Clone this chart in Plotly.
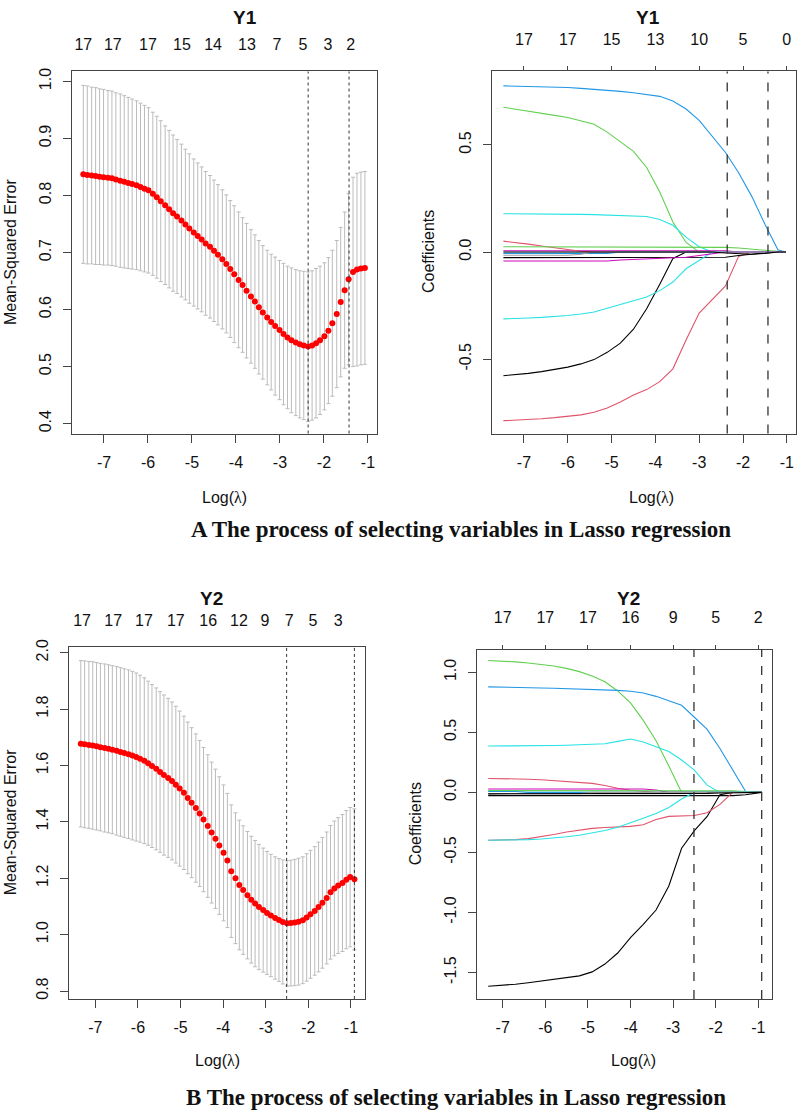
import plotly.graph_objects as go

W, H = 797, 1111
FONT = "Liberation Sans, Arial, sans-serif"
SERIF = "Liberation Serif, Times New Roman, serif"
# R's default palette, recycled over the 17 variables like glmnet does
R_PALETTE = ["#000000", "#DF536B", "#61D04F", "#2297E6",
             "#28E2E5", "#CD0BBC", "#F5C710", "#9E9E9E"]

# ---------------- Y1 : cross-validation curve ----------------
Y1_LOGLAM = [-7.47, -7.38, -7.28, -7.19, -7.10, -7.01, -6.91, -6.82, -6.73, -6.63,
             -6.54, -6.45, -6.36, -6.26, -6.17, -6.08, -5.99, -5.89, -5.80, -5.71,
             -5.61, -5.52, -5.43, -5.34, -5.24, -5.15, -5.06, -4.96, -4.87, -4.78,
             -4.69, -4.59, -4.50, -4.41, -4.31, -4.22, -4.13, -4.04, -3.94, -3.85,
             -3.76, -3.66, -3.57, -3.48, -3.39, -3.29, -3.20, -3.11, -3.01, -2.92,
             -2.83, -2.74, -2.64, -2.55, -2.46, -2.36, -2.27, -2.18, -2.09, -1.99,
             -1.90, -1.81, -1.71, -1.62, -1.53, -1.44, -1.34, -1.25, -1.16, -1.07]
Y1_MSE = [0.837, 0.836, 0.835, 0.834, 0.833, 0.832, 0.831, 0.830, 0.828, 0.826,
          0.824, 0.822, 0.820, 0.818, 0.815, 0.812, 0.809, 0.803, 0.797, 0.790,
          0.783, 0.776, 0.769, 0.763, 0.756, 0.749, 0.742, 0.735, 0.729, 0.723,
          0.716, 0.710, 0.703, 0.696, 0.688, 0.680, 0.671, 0.662, 0.652, 0.643,
          0.633, 0.623, 0.614, 0.604, 0.595, 0.586, 0.578, 0.571, 0.564, 0.557,
          0.551, 0.546, 0.542, 0.539, 0.537, 0.535, 0.537, 0.541, 0.546, 0.553,
          0.563, 0.576, 0.592, 0.613, 0.634, 0.653, 0.666, 0.670, 0.672, 0.673]
Y1_SD = [0.156, 0.156, 0.155, 0.155, 0.154, 0.154, 0.153, 0.153, 0.152, 0.152,
         0.151, 0.150, 0.149, 0.148, 0.147, 0.146, 0.145, 0.143, 0.142, 0.141,
         0.139, 0.138, 0.137, 0.135, 0.134, 0.132, 0.131, 0.129, 0.128, 0.127,
         0.126, 0.125, 0.124, 0.123, 0.122, 0.121, 0.120, 0.120, 0.119, 0.118,
         0.118, 0.117, 0.117, 0.117, 0.117, 0.118, 0.119, 0.121, 0.122, 0.124,
         0.125, 0.127, 0.128, 0.129, 0.130, 0.131, 0.131, 0.131, 0.130, 0.129,
         0.128, 0.128, 0.129, 0.131, 0.137, 0.150, 0.166, 0.169, 0.169, 0.169]
Y1_MSE_TOP_AT = [-7.47, -6.80, -6.00, -5.23, -4.52, -3.75, -3.07, -2.48, -1.91, -1.39]
Y1_MSE_TOP_DF = [17, 17, 17, 15, 14, 13, 7, 5, 3, 2]
Y1_CUTS = [-2.36, -1.43]          # lambda.min, lambda.1se

# ---------------- Y1 : coefficient paths ----------------
Y1_COEF_X = [-7.47, -7.2, -6.9, -6.6, -6.3, -6.0, -5.7, -5.4, -5.1, -4.8, -4.5, -4.2,
             -3.9, -3.6, -3.3, -3.0, -2.7, -2.4, -2.1, -1.8, -1.5, -1.2, -1.02]
Y1_COEF = {
    1: [-0.577, -0.573, -0.566, -0.558, -0.548, -0.537, -0.522, -0.502, -0.468, -0.425, -0.36, -0.265,
        -0.15, -0.03, 0, 0, 0, 0, 0, 0, 0, 0, 0],
    2: [-0.787, -0.785, -0.782, -0.778, -0.773, -0.767, -0.76, -0.748, -0.728, -0.70, -0.667, -0.642,
        -0.605, -0.545, -0.41, -0.285, -0.222, -0.158, -0.02, 0, 0, 0, 0],
    3: [0.676, 0.668, 0.658, 0.648, 0.638, 0.628, 0.614, 0.597, 0.56, 0.515, 0.47, 0.395,
        0.28, 0.14, 0.045, 0, 0, 0, 0, 0, 0, 0, 0],
    4: [0.776, 0.775, 0.773, 0.771, 0.770, 0.768, 0.764, 0.760, 0.755, 0.750, 0.744, 0.737,
        0.727, 0.705, 0.668, 0.615, 0.54, 0.465, 0.37, 0.26, 0.13, 0.01, 0],
    5: [0.179, 0.179, 0.178, 0.178, 0.177, 0.177, 0.176, 0.175, 0.173, 0.171, 0.169, 0.166,
        0.152, 0.125, 0.07, 0.025, 0, 0, 0, 0, 0, 0, 0],
    6: [0.006, 0.006, 0.006, 0.006, 0.006, 0.006, 0.006, 0.006, 0.006, 0.006, 0.006, 0.006,
        0.006, 0.006, 0.006, 0.006, 0.006, 0.006, 0, 0, 0, 0, 0],
    9: [-0.026, -0.026, -0.026, -0.026, -0.026, -0.026, -0.026, -0.026, -0.026, -0.026, -0.026, -0.026,
        -0.026, -0.026, -0.026, -0.026, -0.026, -0.024, -0.016, -0.009, -0.004, 0, 0],
    10: [0.051, 0.045, 0.037, 0.028, 0.019, 0.011, 0.004, 0, 0, 0, 0, 0,
         0, 0, 0, 0, 0, 0, 0, 0, 0, 0, 0],
    11: [0.025, 0.025, 0.025, 0.025, 0.025, 0.025, 0.025, 0.025, 0.025, 0.025, 0.025, 0.025,
         0.025, 0.025, 0.025, 0.025, 0.024, 0.022, 0.019, 0.014, 0.008, 0.002, 0],
    12: [-0.006, -0.006, -0.006, -0.006, -0.006, -0.006, -0.006, -0.006, -0.006, 0, 0, 0,
         0, 0, 0, 0, 0, 0, 0, 0, 0, 0, 0],
    13: [-0.312, -0.311, -0.308, -0.305, -0.301, -0.296, -0.289, -0.280, -0.262, -0.245, -0.228, -0.21,
         -0.18, -0.14, -0.078, -0.04, 0, 0, 0, 0, 0, 0, 0],
    14: [-0.042, -0.042, -0.042, -0.042, -0.042, -0.042, -0.042, -0.042, -0.042, -0.037, -0.034, -0.032,
         -0.03, -0.028, -0.024, -0.016, -0.008, 0, 0, 0, 0, 0, 0],
    16: [-0.015, -0.015, -0.015, -0.015, -0.015, -0.015, -0.01, 0, 0, 0, 0, 0,
         0, 0, 0, 0, 0, 0, 0, 0, 0, 0, 0],
    17: [0, 0, 0, 0, 0, 0, 0, 0, 0, 0, 0, 0,
         0, 0, 0, 0, 0, -0.004, -0.008, -0.01, -0.006, 0, 0],
}
Y1_COEF_TOP_DF = [17, 17, 15, 13, 10, 5, 0]

# ---------------- Y2 : cross-validation curve ----------------
Y2_LOGLAM = [-7.34, -7.25, -7.15, -7.06, -6.97, -6.88, -6.78, -6.69, -6.60, -6.50,
             -6.41, -6.32, -6.22, -6.13, -6.04, -5.95, -5.85, -5.76, -5.67, -5.57,
             -5.48, -5.39, -5.29, -5.20, -5.11, -5.02, -4.92, -4.83, -4.74, -4.64,
             -4.55, -4.46, -4.36, -4.27, -4.18, -4.09, -3.99, -3.90, -3.81, -3.71,
             -3.62, -3.53, -3.43, -3.34, -3.25, -3.16, -3.06, -2.97, -2.88, -2.78,
             -2.69, -2.60, -2.50, -2.41, -2.32, -2.23, -2.13, -2.04, -1.95, -1.85,
             -1.76, -1.67, -1.57, -1.48, -1.39, -1.30, -1.20, -1.11, -1.02, -0.92]
Y2_MSE = [1.677, 1.675, 1.673, 1.671, 1.668, 1.665, 1.662, 1.659, 1.656, 1.652,
          1.648, 1.644, 1.640, 1.635, 1.630, 1.624, 1.617, 1.608, 1.598, 1.588,
          1.577, 1.566, 1.556, 1.545, 1.532, 1.518, 1.503, 1.485, 1.468, 1.449,
          1.430, 1.408, 1.385, 1.362, 1.340, 1.316, 1.290, 1.263, 1.225, 1.200,
          1.176, 1.158, 1.140, 1.124, 1.110, 1.098, 1.087, 1.077, 1.068, 1.059,
          1.052, 1.045, 1.040, 1.041, 1.043, 1.046, 1.051, 1.061, 1.072, 1.084,
          1.098, 1.113, 1.130, 1.150, 1.164, 1.174, 1.183, 1.195, 1.204, 1.196]
Y2_SD = [0.295, 0.296, 0.296, 0.297, 0.297, 0.297, 0.298, 0.298, 0.298, 0.299,
         0.299, 0.299, 0.299, 0.299, 0.298, 0.296, 0.294, 0.291, 0.289, 0.287,
         0.285, 0.284, 0.282, 0.280, 0.278, 0.275, 0.272, 0.269, 0.266, 0.263,
         0.259, 0.256, 0.253, 0.250, 0.247, 0.244, 0.241, 0.238, 0.235, 0.232,
         0.230, 0.228, 0.226, 0.225, 0.224, 0.222, 0.220, 0.218, 0.217, 0.217,
         0.218, 0.220, 0.222, 0.223, 0.224, 0.225, 0.225, 0.226, 0.227, 0.228,
         0.230, 0.232, 0.234, 0.237, 0.239, 0.241, 0.243, 0.245, 0.247, 0.250]
Y2_MSE_TOP_AT = [-7.31, -6.58, -5.86, -5.11, -4.35, -3.63, -3.02, -2.45, -1.89, -1.30]
Y2_MSE_TOP_DF = [17, 17, 17, 17, 16, 12, 9, 7, 5, 3]
Y2_CUTS = [-2.51, -0.92]

# ---------------- Y2 : coefficient paths ----------------
Y2_COEF_X = [-7.34, -7.0, -6.7, -6.4, -6.1, -5.8, -5.5, -5.2, -4.9, -4.6, -4.3, -4.0,
             -3.7, -3.4, -3.1, -2.8, -2.5, -2.2, -1.9, -1.6, -1.3, -1.0, -0.92]
Y2_COEF = {
    1: [-1.614, -1.607, -1.598, -1.585, -1.572, -1.558, -1.545, -1.528, -1.495, -1.43, -1.338, -1.21,
        -1.10, -0.98, -0.78, -0.465, -0.318, -0.20, -0.02, 0, 0, 0, 0],
    2: [0.116, 0.115, 0.113, 0.110, 0.105, 0.099, 0.093, 0.085, 0.075, 0.058, 0.034, 0.018,
        0.008, 0, 0, 0, 0, 0, 0, 0, 0, 0, 0],
    3: [1.099, 1.094, 1.087, 1.078, 1.068, 1.053, 1.033, 1.006, 0.97, 0.922, 0.845, 0.745,
        0.6, 0.43, 0.22, 0, 0, 0, 0, 0, 0, 0, 0],
    4: [0.879, 0.878, 0.876, 0.873, 0.870, 0.868, 0.865, 0.862, 0.858, 0.854, 0.850, 0.843,
        0.828, 0.80, 0.765, 0.725, 0.626, 0.525, 0.365, 0.19, 0.01, 0, 0],
    5: [0.386, 0.386, 0.387, 0.388, 0.389, 0.391, 0.393, 0.395, 0.397, 0.405, 0.425, 0.445,
        0.42, 0.38, 0.34, 0.27, 0.185, 0.06, 0, 0, 0, 0, 0],
    6: [0.028, 0.028, 0.028, 0.028, 0.028, 0.028, 0.028, 0.028, 0.028, 0.028, 0.028, 0.028,
        0.028, 0.02, 0, 0, 0, 0, 0, 0, 0, 0, 0],
    9: [-0.027, -0.027, -0.027, -0.027, -0.027, -0.027, -0.027, -0.027, -0.027, -0.027, -0.027, -0.027,
        -0.027, -0.027, -0.027, -0.027, -0.027, -0.027, -0.027, -0.027, -0.02, -0.005, 0],
    10: [-0.399, -0.397, -0.393, -0.385, -0.37, -0.35, -0.33, -0.312, -0.30, -0.292, -0.287, -0.283,
         -0.27, -0.225, -0.20, -0.197, -0.193, -0.17, -0.10, 0, 0, 0, 0],
    11: [0.015, 0.015, 0.015, 0.015, 0.015, 0.015, 0.015, 0.015, 0.015, 0.015, 0.015, 0.015,
         0.015, 0.015, 0.015, 0.015, 0.015, 0.015, 0.015, 0.013, 0.008, 0.002, 0],
    12: [0.008, 0.008, 0.008, 0, 0, 0, 0, 0, 0, 0, 0, 0,
         0, 0, 0, 0, 0, 0, 0, 0, 0, 0, 0],
    13: [-0.399, -0.398, -0.396, -0.393, -0.388, -0.38, -0.37, -0.357, -0.34, -0.318, -0.29, -0.255,
         -0.215, -0.175, -0.125, -0.055, 0, 0, 0, 0, 0, 0, 0],
    16: [-0.01, -0.01, -0.01, -0.01, -0.01, -0.01, -0.01, -0.01, 0, 0, 0, 0,
         0, 0, 0, 0, 0, 0, 0, 0, 0, 0, 0],
    17: [-0.012, -0.012, -0.012, -0.012, -0.012, -0.012, -0.012, -0.012, -0.012, -0.012, -0.012, -0.012,
         -0.012, -0.012, -0.012, -0.012, -0.01, -0.008, -0.005, -0.002, 0, 0, 0],
}
Y2_COEF_TOP_DF = [17, 17, 17, 16, 9, 5, 2]

# ---------------- axis ticks ----------------
X_TICKS = [-7, -6, -5, -4, -3, -2, -1]
Y1_MSE_TICKS = [0.4, 0.5, 0.6, 0.7, 0.8, 0.9, 1.0]
Y1_COEF_TICKS = [-0.5, 0.0, 0.5]
Y2_MSE_TICKS = [0.8, 1.0, 1.2, 1.4, 1.6, 1.8, 2.0]
Y2_COEF_TICKS = [-1.5, -1.0, -0.5, 0.0, 0.5, 1.0]

CAPTION_A = "A The process of selecting variables in Lasso regression"
CAPTION_B = "B The process of selecting variables in Lasso regression"

# panel boxes in pixels (left, right, top, bottom) with the matching axis ranges
PANELS = {
    1: dict(px=(72, 377, 64, 429), xr=[-7.727, -0.795], yr=[0.3826, 1.0174],
            yt=Y1_MSE_TICKS, top_at=Y1_MSE_TOP_AT, top_df=Y1_MSE_TOP_DF, coef=False),
    2: dict(px=(492, 796, 64, 429), xr=[-7.73, -0.79], yr=[-0.847, 0.843],
            yt=Y1_COEF_TICKS, top_at=X_TICKS, top_df=Y1_COEF_TOP_DF, coef=True),
    3: dict(px=(69, 365, 644, 999), xr=[-7.617, -0.671], yr=[0.772, 2.021],
            yt=Y2_MSE_TICKS, top_at=Y2_MSE_TOP_AT, top_df=Y2_MSE_TOP_DF, coef=False),
    4: dict(px=(477, 772, 647, 999), xr=[-7.603, -0.678], yr=[-1.72, 1.188],
            yt=Y2_COEF_TICKS, top_at=X_TICKS, top_df=Y2_COEF_TOP_DF, coef=True),
}

BOX = "#444444"
TICKFONT = dict(family=FONT, size=16, color="#111111")


def sfx(k):
    return "" if k == 1 else str(k)


fig = go.Figure()

# cross-validation curves: red dots with grey error bars
for k, (xs, ms, sd) in {1: (Y1_LOGLAM, Y1_MSE, Y1_SD), 3: (Y2_LOGLAM, Y2_MSE, Y2_SD)}.items():
    fig.add_trace(go.Scatter(
        x=xs, y=ms, mode="markers",
        marker=dict(color="red", size=6),
        error_y=dict(type="data", array=sd, color="#bbbbbb", thickness=1, width=2),
        xaxis="x" + sfx(k), yaxis="y" + sfx(k), showlegend=False, hoverinfo="skip",
    ))

# coefficient paths
for k, (xs, paths) in {2: (Y1_COEF_X, Y1_COEF), 4: (Y2_COEF_X, Y2_COEF)}.items():
    for var, ys in paths.items():
        fig.add_trace(go.Scatter(
            x=xs, y=ys, mode="lines",
            line=dict(color=R_PALETTE[(var - 1) % 8], width=1.1),
            xaxis="x" + sfx(k), yaxis="y" + sfx(k), showlegend=False, hoverinfo="skip",
        ))

# invisible carriers so the top (number of non-zero coefficients) axes get drawn
for k, p in PANELS.items():
    fig.add_trace(go.Scatter(
        x=p["top_at"], y=[p["yt"][0]] * len(p["top_at"]), mode="markers",
        marker=dict(opacity=0, size=1), xaxis="x" + str(k + 4), yaxis="y" + sfx(k),
        showlegend=False, hoverinfo="skip",
    ))

layout = {}
for k, p in PANELS.items():
    l, r, t, b = p["px"]
    xdom = [l / W, r / W]
    ydom = [1 - b / H, 1 - t / H]
    layout["xaxis" + sfx(k)] = dict(
        domain=xdom, anchor="y" + sfx(k), range=p["xr"],
        tickvals=X_TICKS, ticktext=[str(v) for v in X_TICKS],
        ticks="outside", ticklen=8, tickcolor=BOX, ticklabelstandoff=6,
        showline=True, mirror=True, linecolor=BOX, linewidth=1.2,
        showgrid=False, zeroline=False, tickfont=TICKFONT,
    )
    layout["yaxis" + sfx(k)] = dict(
        domain=ydom, anchor="x" + sfx(k), range=p["yr"],
        tickvals=p["yt"], ticktext=[f"{v:.1f}" for v in p["yt"]], tickangle=-90,
        ticks="outside", ticklen=8, tickcolor=BOX, ticklabelstandoff=6,
        showline=True, mirror=True, linecolor=BOX, linewidth=1.2,
        showgrid=False, zeroline=False, tickfont=TICKFONT,
    )
    layout["xaxis" + str(k + 4)] = dict(
        overlaying="x" + sfx(k), anchor="y" + sfx(k), side="top", range=p["xr"],
        tickvals=p["top_at"], ticktext=[str(v) for v in p["top_df"]],
        ticks="outside" if p["coef"] else "", ticklen=4, tickcolor=BOX,
        ticklabelstandoff=15 if p["coef"] else 17,
        showline=False, showgrid=False, zeroline=False, tickfont=TICKFONT,
    )

# lambda.min / lambda.1se reference lines
shapes = []
for k, cuts in {1: Y1_CUTS, 2: Y1_CUTS, 3: Y2_CUTS, 4: Y2_CUTS}.items():
    coef = PANELS[k]["coef"]
    for c in cuts:
        shapes.append(dict(
            type="line", xref="x" + sfx(k), yref="y" + sfx(k) + " domain",
            x0=c, x1=c, y0=0, y1=1,
            line=dict(color="#333333", width=1.3 if coef else 1, dash="dash" if coef else "dot"),
        ))


def note(text, x, y, size=16, angle=0, family=FONT, **kw):
    return dict(text=text, x=x / W, y=1 - y / H, xref="paper", yref="paper",
                xanchor="center", yanchor="middle", showarrow=False, textangle=angle,
                font=dict(family=family, size=size, color="#111111"), **kw)


LOGLAM = 'Log(<span style="font-family:Liberation Serif">λ</span>)'
annotations = [
    note("<b>Y1</b>", 245, 10, size=19), note("<b>Y1</b>", 648, 10, size=19),
    note("<b>Y2</b>", 212, 595, size=19), note("<b>Y2</b>", 628, 595, size=19),
    note("Mean-Squared Error", 10, 246, angle=-90),
    note("Mean-Squared Error", 10, 821, angle=-90),
    note("Coefficients", 428, 246, angle=-90),
    note("Coefficients", 415, 823, angle=-90),
    note(LOGLAM, 224, 494), note(LOGLAM, 651, 494),
    note(LOGLAM, 217, 1061), note(LOGLAM, 633, 1061),
    note("<b>" + CAPTION_A + "</b>", 461, 526, size=23, family=SERIF),
    note("<b>" + CAPTION_B + "</b>", 456, 1098, size=23, family=SERIF),
]

fig.update_layout(
    width=W, height=H, margin=dict(l=0, r=0, t=0, b=0),
    paper_bgcolor="white", plot_bgcolor="white",
    font=dict(family=FONT, color="#111111"),
    shapes=shapes, annotations=annotations, showlegend=False,
    **layout,
)

# the page's default 8px body margin would push the figure off the window
fig.write_html("out.html", config={"displayModeBar": False},
               post_script="document.body.style.margin='0';document.body.style.overflow='hidden';")
